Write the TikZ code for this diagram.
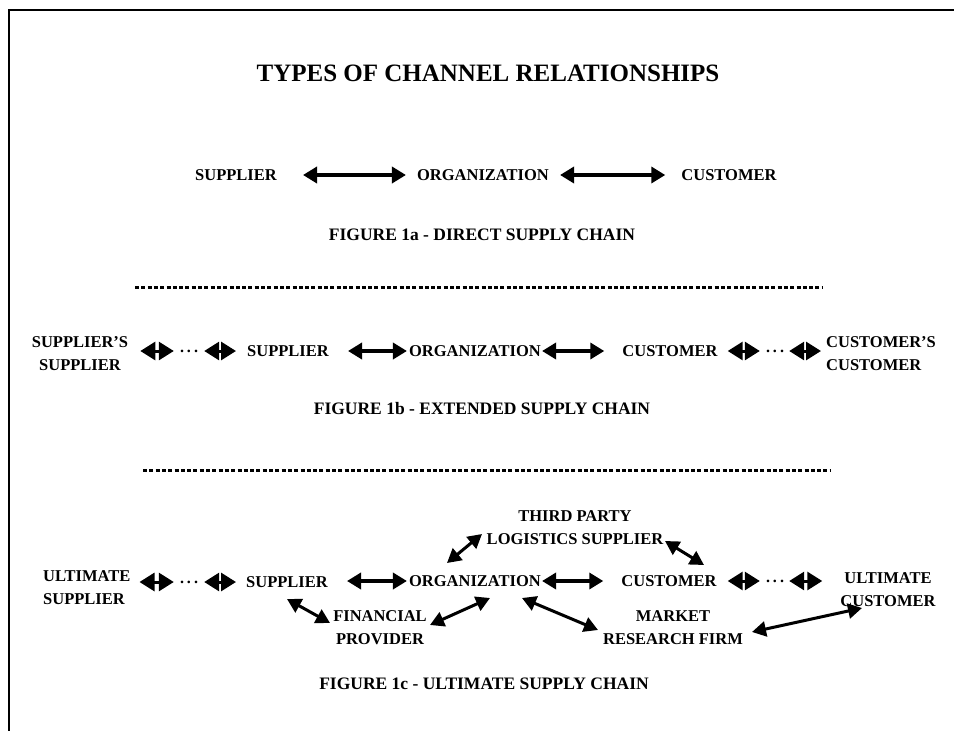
\documentclass[tikz,border=0pt]{standalone}
\usepackage{fontspec}
\setmainfont{Liberation Serif}
\usetikzlibrary{arrows.meta,calc}
\begin{document}
\begin{tikzpicture}[x=1pt,y=-1pt,
 lbl/.style={inner sep=0pt, font=\bfseries\fontsize{16.5}{23}\selectfont, align=center},
 lbll/.style={lbl, align=left},
 figcap/.style={inner sep=0pt, font=\bfseries\fontsize{17.5}{21}\selectfont},
 ttl/.style={inner sep=0pt, font=\bfseries\fontsize{25}{30}\selectfont},
 dotsn/.style={inner sep=0pt, font=\bfseries\fontsize{16}{20}\selectfont},
 bigarr/.style={line width=3.5pt, {Triangle[length=14pt,width=16pt]}-{Triangle[length=14pt,width=16pt]}},
 smallarr/.style={line width=3pt, {Triangle[length=15pt,width=18pt]}-{Triangle[length=15pt,width=18pt]}},
 diag/.style={line width=3pt, {Triangle[length=14pt,width=15pt]}-{Triangle[length=14pt,width=15pt]}},
 sepline/.style={line width=3pt, dash pattern=on 4pt off 2.3pt},
 frameline/.style={line width=2pt}]
\useasboundingbox (0,0) rectangle (954,731);
% frame
\draw[frameline] (954,10) -- (9,10) -- (9,731);
% title
\node[ttl] (title) at (488,73) {TYPES OF CHANNEL RELATIONSHIPS};
% ---------- Figure 1a
\node[lbl] (s1) at (236,175) {SUPPLIER};
\node[lbl] (o1) at (483,175) {ORGANIZATION};
\node[lbl] (c1) at (729,175) {CUSTOMER};
\draw[bigarr, shorten <=26pt, shorten >=11pt] (s1.east |- o1) -- (o1.west);
\draw[bigarr, shorten <=11pt, shorten >=16pt] (o1.east) -- (c1.west);
\node[figcap] (capa) at (482,235) {FIGURE 1a - DIRECT SUPPLY CHAIN};
\draw[sepline] (135,287) -- (822,287);
% ---------- Figure 1b
\node[lbl] (ssb) at (80,354) {SUPPLIER’S\\SUPPLIER};
\node[dotsn] (d1) at (189,351) {.\hspace{3pt}.\hspace{3pt}.};
\node[lbl] (sb) at (288,351) {SUPPLIER};
\node[lbl] (ob) at (475,351) {ORGANIZATION};
\node[lbl] (cb) at (670,351) {CUSTOMER};
\node[dotsn] (d2) at (775,351) {.\hspace{3pt}.\hspace{3pt}.};
\node[lbll, anchor=west] (ccb) at (826,354) {CUSTOMER’S\\CUSTOMER};
\draw[smallarr, shorten <=12pt, shorten >=6pt] (ssb.east |- d1) -- (d1.west);
\draw[smallarr, shorten <=6pt, shorten >=11pt] (d1.east) -- (sb.west |- d1);
\draw[bigarr, shorten <=19pt, shorten >=2pt] (sb.east |- ob) -- (ob.west);
\draw[bigarr, shorten <=1pt, shorten >=18pt] (ob.east) -- (cb.west);
\draw[smallarr, shorten <=10pt, shorten >=6pt] (cb.east) -- (d2.west);
\draw[smallarr, shorten <=5pt, shorten >=5pt] (d2.east) -- (ccb.west |- d2);
\node[figcap] (capb) at (482,409) {FIGURE 1b - EXTENDED SUPPLY CHAIN};
\draw[sepline] (143,470) -- (830,470);
% ---------- Figure 1c
\node[lbll, anchor=west] (us) at (43,588) {ULTIMATE\\SUPPLIER};
\node[dotsn] (d3) at (189,582) {.\hspace{3pt}.\hspace{3pt}.};
\node[lbl] (sc) at (287,582) {SUPPLIER};
\node[lbl] (oc) at (475,581) {ORGANIZATION};
\node[lbl] (cc) at (669,581) {CUSTOMER};
\node[dotsn] (d4) at (775,581) {.\hspace{3pt}.\hspace{3pt}.};
\node[lbl] (uc) at (888,590) {ULTIMATE\\CUSTOMER};
\node[lbl] (tp) at (575,528) {THIRD PARTY\\LOGISTICS SUPPLIER};
\node[lbl] (fp) at (380,628) {FINANCIAL\\PROVIDER};
\node[lbl] (mr) at (673,628) {MARKET\\RESEARCH FIRM};
\draw[smallarr, shorten <=9pt, shorten >=6pt] (us.east |- d3) -- (d3.west);
\draw[smallarr, shorten <=6pt, shorten >=10pt] (d3.east) -- (sc.west |- d3);
\draw[bigarr, shorten <=19pt, shorten >=2pt] (sc.east |- oc) -- (oc.west);
\draw[bigarr, shorten <=1pt, shorten >=18pt] (oc.east) -- (cc.west);
\draw[smallarr, shorten <=11pt, shorten >=6pt] (cc.east) -- (d4.west);
\draw[smallarr, shorten <=5pt, shorten >=18pt] (d4.east) -- (uc.west |- d4);
\draw[diag] ($(oc)+(-28,-18)$) -- ($(tp)+(-93,6)$);
\draw[diag] ($(tp)+(90,13)$) -- ($(cc)+(35,-16)$);
\draw[diag] ($(sc)+(0,17)$) -- ($(fp)+(-50,-5)$);
\draw[diag] ($(fp)+(50,-3)$) -- ($(oc)+(15,17)$);
\draw[diag] ($(oc)+(47,17)$) -- ($(mr)+(-75,2)$);
\draw[diag] ($(mr)+(79,4)$) -- ($(uc)+(-26,18)$);
\node[figcap] (capc) at (484,684) {FIGURE 1c - ULTIMATE SUPPLY CHAIN};
\end{tikzpicture}
\end{document}
